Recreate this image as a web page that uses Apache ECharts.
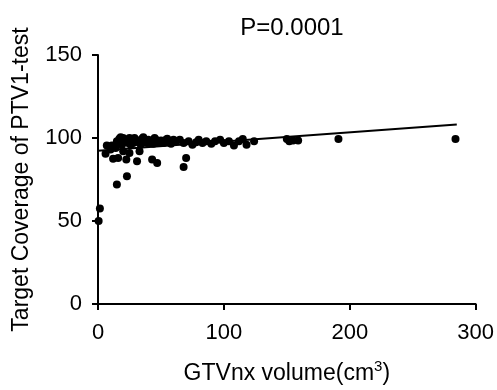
<!DOCTYPE html>
<html>
<head>
<meta charset="utf-8">
<script src="https://cdn.jsdelivr.net/npm/echarts@6/dist/echarts.min.js"></script>
<style>html,body{margin:0;padding:0;background:#fff}#c{width:497px;height:390px}</style>
</head>
<body>
<div id="c"></div>
<script>
var titleText = "P=0.0001";
var xName = "GTVnx volume(cm{sup|3})";
var yName = "Target Coverage of PTV1-test";
var xTicks = [0, 100, 200, 300];
var yTicks = [0, 50, 100, 150];
var volumes = [0.5, 1.5, 15, 23, 12, 16, 22.5, 31, 43, 47, 68, 70, 6, 20, 33, 25, 10,
  7, 11, 14, 15, 17, 19, 20, 22, 23, 24, 25, 26, 27, 28, 30, 32, 34, 35, 37, 39, 40, 42, 44, 46, 48,
  50, 52, 54, 56, 58, 60, 62, 65, 68, 72, 75, 78, 80, 83, 86, 90, 93, 97, 100, 104, 108, 112,
  115, 118, 124, 150, 152, 155, 159, 191, 284, 18, 29, 36, 45, 55];
var coverage = [50, 57.5, 72, 77, 87.5, 88, 87, 86, 87, 85, 82.5, 88, 90.5, 92, 92, 91, 93,
  95.5, 95.5, 94, 98, 99.5, 96, 100, 98, 99, 97, 100, 96, 98.5, 97, 99, 97.5, 96, 99.5, 98, 97, 99, 98, 96.5, 99, 97.5,
  98.5, 97, 99, 98, 96.5, 99, 98, 99, 97, 98, 96, 97.5, 99, 97, 98, 96.5, 98, 99, 97, 98, 95.5, 98,
  99.4, 96, 98, 99.4, 98, 98.5, 98.5, 99.4, 99.4, 100.5, 100, 100.5, 100, 99.5];
var fitX = [0, 285];
var fitY = [92.3, 108.2];

var pts = volumes.map(function (v, i) { return [v, coverage[i]]; });
var fit = fitX.map(function (v, i) { return [v, fitY[i]]; });
var FONT = "Arial, 'Liberation Sans', sans-serif";
var chart = echarts.init(document.getElementById('c'));
chart.setOption({
  animation: false,
  title: { text: titleText, left: 287, top: 11, textAlign: 'center',
    textStyle: { fontFamily: FONT, fontSize: 24, fontWeight: 'normal', color: '#000' } },
  grid: { left: 98, right: 20, top: 55, bottom: 83 },
  xAxis: {
    type: 'value', min: xTicks[0], max: xTicks[xTicks.length - 1], interval: 100,
    name: xName, nameLocation: 'middle', nameGap: 55,
    nameTextStyle: { fontFamily: FONT, fontSize: 23, color: '#000',
      rich: { sup: { fontFamily: FONT, fontSize: 15, color: '#000', verticalAlign: 'top', padding: [0, 0, 14, 0] } } },
    axisLine: { lineStyle: { color: '#000', width: 2 } },
    axisTick: { length: 6, lineStyle: { color: '#000', width: 2 } },
    axisLabel: { fontFamily: FONT, fontSize: 22, color: '#000', margin: 18 },
    splitLine: { show: false }
  },
  yAxis: {
    type: 'value', min: yTicks[0], max: yTicks[yTicks.length - 1], interval: 50,
    name: yName, nameLocation: 'middle', nameGap: 65,
    nameTextStyle: { fontFamily: FONT, fontSize: 23, color: '#000' },
    axisLine: { show: true, lineStyle: { color: '#000', width: 2 } },
    axisTick: { show: true, length: 6, lineStyle: { color: '#000', width: 2 } },
    axisLabel: { fontFamily: FONT, fontSize: 22, color: '#000', margin: 16 },
    splitLine: { show: false }
  },
  series: [
    { type: 'scatter', data: pts, symbolSize: 8, itemStyle: { color: '#000', opacity: 1 } },
    { type: 'line', data: fit, symbol: 'none', lineStyle: { color: '#000', width: 2 } }
  ]
});
</script>
</body>
</html>
